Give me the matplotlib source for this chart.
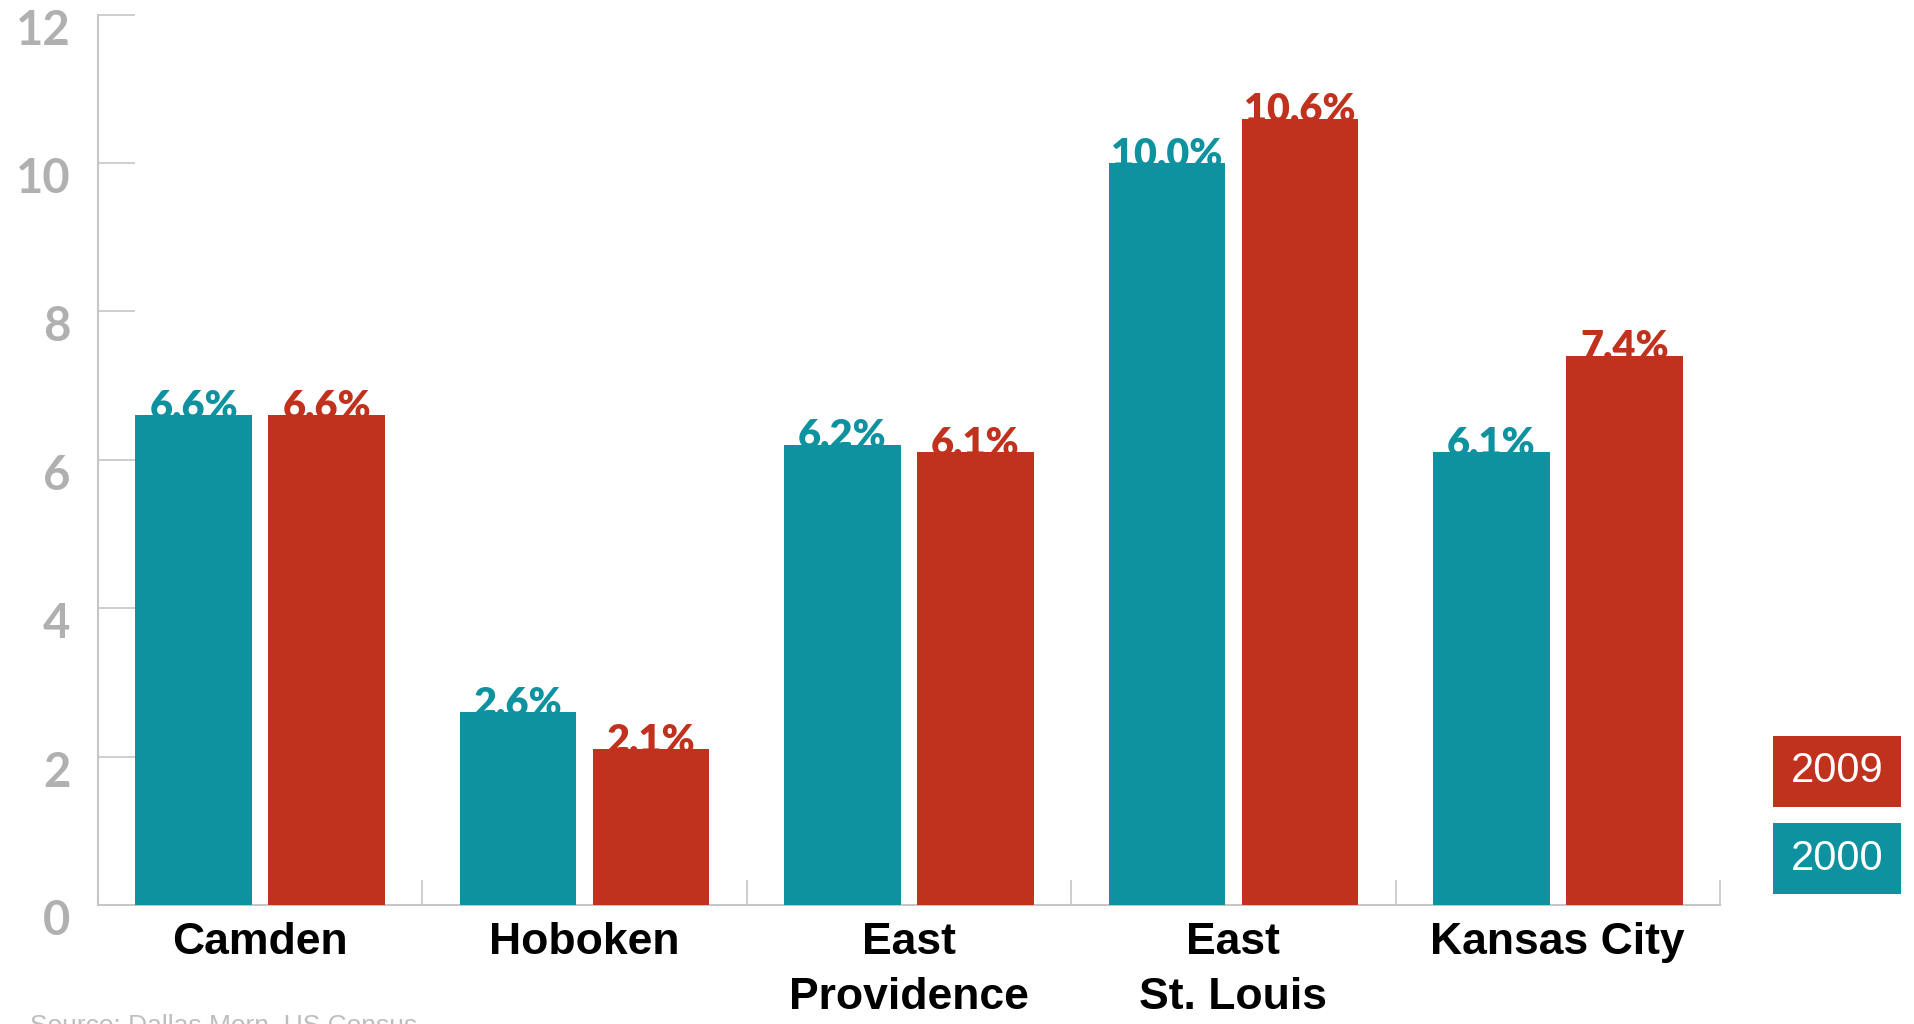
import matplotlib
matplotlib.use('Agg')
import matplotlib.pyplot as plt
import matplotlib.transforms as mtransforms
from matplotlib.patches import Rectangle
import numpy as np

# data
cities = ['Camden', 'Hoboken', 'East\nProvidence', 'East\nSt. Louis', 'Kansas City']
share_2000 = [6.6, 2.6, 6.2, 10.0, 6.1]
share_2009 = [6.6, 2.1, 6.1, 10.6, 7.4]
yticks = [0, 2, 4, 6, 8, 10, 12]
years = ['2000', '2009']

teal = '#0f929f'
red = '#c1321e'
axis_gray = '#c6c6c6'
tick_gray = '#b0b0b0'

fig = plt.figure(figsize=(19.15, 10.24), dpi=100)
ax = fig.add_axes([98 / 1915, 1 - 905 / 1024, (1720 - 98) / 1915, (905 - 14.7) / 1024])

x = np.arange(len(cities))
bw = 0.36
off = 0.205
bars_a = ax.bar(x - off, share_2000, bw, color=teal, zorder=3)
bars_b = ax.bar(x + off, share_2009, bw, color=red, zorder=3)

# value labels sit just behind the bar tops
for bars, vals, col in ((bars_a, share_2000, teal), (bars_b, share_2009, red)):
    for b, v in zip(bars, vals):
        ax.annotate('%.1f%%' % v, (b.get_x() + b.get_width() / 2, v),
                    xytext=(0, -2.5), textcoords='offset points',
                    ha='center', va='baseline', color=col, fontsize=28.5,
                    fontweight='heavy', family='Lato', zorder=2)

ax.set_xlim(-0.5, len(cities) - 0.5)
ax.set_ylim(0, 12)

for s in ('top', 'right'):
    ax.spines[s].set_visible(False)
for s in ('left', 'bottom'):
    ax.spines[s].set_color(axis_gray)
    ax.spines[s].set_linewidth(1.5)

# y ticks point inward, labels grey and slightly below the tick
ax.set_yticks(yticks)
ax.tick_params(axis='y', direction='in', length=26.5, width=1.2, color=axis_gray,
               pad=20, labelsize=34, labelcolor=tick_gray)
offset = mtransforms.ScaledTranslation(0, -12 / 100, fig.dpi_scale_trans)
for lab in ax.get_yticklabels():
    lab.set_fontweight('bold')
    lab.set_family('Lato')
    lab.set_transform(lab.get_transform() + offset)

# x: city names at centres, small separators between groups
ax.set_xticks(x)
ax.set_xticklabels(cities, fontsize=32, fontweight='bold', family='Liberation Sans',
                   linespacing=1.45)
ax.set_xticks(list(x + 0.5), minor=True)
ax.tick_params(axis='x', which='major', length=0, pad=12)
ax.tick_params(axis='x', which='minor', direction='in', length=18, width=1.2,
               color=axis_gray)

# legend boxes on the right
boxes = [(years[1], red, 736), (years[0], teal, 823)]
for lbl, col, top in boxes:
    x0 = 1773 / 1915
    w = (1901 - 1773) / 1915
    h = 71 / 1024
    y0 = 1 - (top + 71) / 1024
    fig.add_artist(Rectangle((x0, y0), w, h, transform=fig.transFigure,
                             facecolor=col, edgecolor='none'))
    fig.text(x0 + w / 2, y0 + h / 2, lbl, ha='center', va='center', color='white',
             fontsize=30, family='Liberation Sans')

fig.text(30 / 1915, 1 - 1014 / 1024, 'Source: Dallas Morn, US Census', ha='left',
         va='top', fontsize=19, color='#bdbdbd', family='Liberation Sans')

fig.savefig('out.png', dpi=100, facecolor='white')
